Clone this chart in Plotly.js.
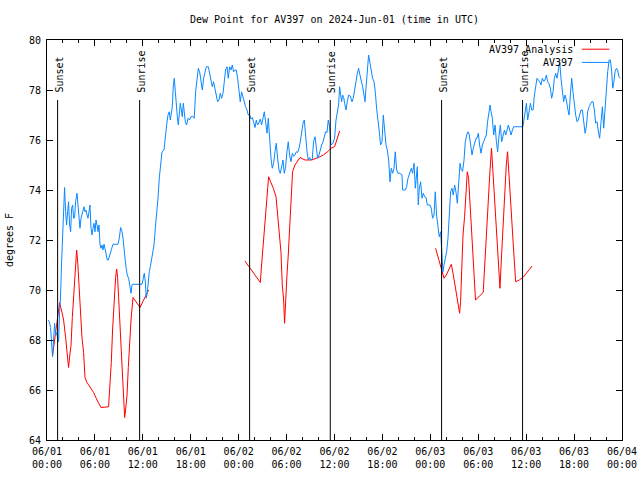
<!DOCTYPE html>
<html>
<head>
<meta charset="utf-8">
<script src="https://cdn.plot.ly/plotly-3.0.1.min.js"></script>
<style>html,body{margin:0;padding:0;background:#fff;}#chart{width:640px;height:480px;}</style>
</head>
<body>
<div id="chart"></div>
<script>
// hours since 2024-06-01 00:00 UTC
const obsHours = [0.13,0.29,0.45,0.54,0.63,0.70,0.83,0.95,1.08,1.20,1.33,1.45,1.58,1.70,1.83,1.95,2.08,2.20,2.33,2.45,2.58,2.70,2.83,2.96,3.08,3.21,3.33,3.46,3.58,3.76,3.88,4.01,4.13,4.26,4.38,4.51,4.63,4.76,4.88,5.01,5.13,5.26,5.38,5.51,5.63,5.76,5.89,6.01,6.14,6.26,6.39,6.51,6.64,6.76,6.89,7.01,7.14,7.30,7.43,7.55,7.68,7.84,8.01,8.26,8.89,9.05,9.22,9.39,9.52,9.64,9.77,9.89,10.05,10.22,10.39,10.52,10.64,10.77,11.27,11.90,12.06,12.18,12.31,12.43,12.56,12.68,12.81,12.94,13.06,13.22,13.40,13.56,13.72,13.90,14.06,14.22,14.40,14.65,14.81,14.98,15.15,15.31,15.44,15.56,15.69,15.82,15.94,16.07,16.19,16.32,16.44,16.57,16.69,16.82,16.94,17.07,17.19,17.32,17.48,17.66,17.85,18.03,18.25,18.44,18.61,18.78,18.95,19.11,19.28,19.45,19.61,19.78,19.95,20.20,20.36,20.54,20.70,20.86,21.04,21.20,21.36,21.54,21.70,21.86,22.04,22.20,22.36,22.54,22.70,22.87,23.04,23.20,23.37,23.54,23.70,23.87,24.04,24.20,24.37,24.54,24.71,24.87,25.04,25.21,25.37,25.54,25.71,25.87,26.05,26.21,26.37,26.55,26.71,26.87,27.05,27.21,27.37,27.55,27.71,27.87,28.05,28.21,28.37,28.55,28.71,28.88,29.05,29.21,29.38,29.55,29.71,29.88,30.05,30.21,30.38,30.55,30.72,30.88,31.05,31.22,31.38,31.56,31.72,31.88,32.06,32.22,32.38,32.56,32.72,32.88,33.06,33.22,33.38,33.56,33.72,33.88,34.06,34.22,34.39,34.56,34.72,34.89,35.06,35.22,35.39,35.56,35.81,36.01,36.19,36.35,36.51,36.64,36.76,36.89,37.02,37.15,37.27,37.44,37.60,37.77,37.98,38.19,38.35,38.52,38.69,38.86,39.02,39.19,39.36,39.52,39.69,39.82,39.94,40.10,40.27,40.45,40.61,40.77,40.95,41.11,41.27,41.45,41.61,41.77,41.95,42.11,42.27,42.45,42.61,42.78,42.95,43.11,43.28,43.45,43.61,43.78,43.95,44.20,44.45,44.53,44.87,45.03,45.20,45.37,45.62,45.78,45.96,46.12,46.28,46.37,46.49,46.62,46.78,46.96,47.12,47.28,47.46,47.62,47.96,48.12,48.28,48.46,48.62,48.78,48.96,49.12,49.29,49.37,49.46,49.58,49.71,49.87,50.04,50.21,50.37,50.54,50.71,50.87,51.04,51.22,51.38,51.54,51.72,51.88,52.04,52.22,52.38,52.55,52.72,52.88,53.05,53.22,53.38,53.55,53.72,53.84,54.01,54.17,54.35,54.51,54.67,54.85,55.01,55.17,55.35,55.48,55.60,55.77,55.93,56.11,56.27,56.43,56.61,56.77,56.93,57.11,57.28,57.44,57.61,57.77,57.94,58.11,58.28,58.44,58.94,59.57,59.69,59.87,60.03,60.19,60.37,60.53,60.70,60.87,61.03,61.20,61.36,61.53,61.69,61.86,62.03,62.19,62.36,62.53,62.69,62.86,63.03,63.19,63.37,63.53,63.69,63.87,64.04,64.20,64.36,64.53,64.69,64.87,65.03,65.19,65.37,65.53,65.70,65.87,66.03,66.20,66.37,66.53,66.70,66.87,67.04,67.20,67.38,67.54,67.70,67.88,68.04,68.20,68.38,68.54,68.70,68.88,69.04,69.20,69.38,69.55,69.71,69.88,70.05,70.21,70.39,70.55,70.71,70.84,70.97,71.13,71.30,71.45,71.62,71.79];
const obsDew = [68.8,68.73,68.5,67.8,67.6,67.33,68.07,68.67,68.2,68.3,68.07,67.93,69.13,69.8,71.13,72.07,73.4,74.1,73.13,72.6,73.13,73.53,72.6,72.33,73.27,73.4,72.87,72.9,73.53,73.87,73.4,72.73,72.47,72.87,73.07,73.27,73.33,73.13,73.2,73.0,72.87,73.13,73.4,72.47,72.2,72.47,72.67,72.33,72.8,72.6,72.33,72.6,71.8,71.67,71.8,71.6,71.83,71.6,71.4,71.2,71.2,71.4,71.6,71.83,71.83,72.07,72.5,72.33,72.07,71.53,71.27,70.93,70.6,70.47,70.2,69.87,70.2,70.23,70.23,70.23,70.47,70.67,70.33,69.67,69.9,70.47,70.73,70.93,71.13,71.4,71.8,72.47,73.0,73.67,74.47,74.87,75.53,75.6,76.2,76.6,77.0,77.13,76.8,77.13,77.33,78.2,78.47,77.93,77.2,76.93,76.6,77.13,77.47,77.2,76.93,77.47,77.2,76.73,76.6,76.87,76.8,76.93,76.95,76.87,77.93,78.47,78.87,78.73,78.27,78.0,78.47,78.67,78.93,78.93,78.67,78.47,78.13,78.33,78.07,77.8,77.53,77.6,77.87,77.67,77.87,78.33,78.8,78.93,78.47,78.93,78.8,79.0,78.73,78.8,78.8,78.47,77.93,77.53,77.93,77.7,77.53,77.33,77.2,77.0,77.0,76.84,76.9,76.67,76.5,76.8,76.6,76.7,76.84,76.6,76.93,77.13,76.73,76.27,76.87,75.93,75.27,74.87,75.07,75.53,75.87,75.27,74.8,74.67,75.0,75.2,74.67,74.93,75.53,75.93,75.4,75.13,75.47,75.35,75.4,75.53,75.5,75.67,75.93,76.4,76.67,76.8,76.07,75.53,75.2,75.3,75.2,75.25,75.93,76.13,75.73,75.27,75.4,75.67,75.8,75.93,76.13,76.33,76.3,76.8,76.53,75.8,75.87,76.07,76.8,77.13,77.4,78.13,77.8,77.53,77.8,77.7,77.47,77.2,77.53,77.8,77.75,77.53,77.67,77.93,78.33,78.67,78.87,78.6,78.4,78.13,77.8,77.53,78.07,78.73,79.4,79.07,78.73,78.47,78.33,77.93,77.27,76.87,76.33,75.8,75.93,77.0,76.33,75.8,75.6,75.2,74.33,74.87,74.67,74.87,75.53,74.8,74.67,74.67,74.6,74.0,74.0,74.13,74.47,74.67,74.87,74.67,75.07,74.07,74.53,74.93,73.4,74.07,74.33,73.67,73.87,73.73,73.7,73.4,73.4,73.27,72.87,73.0,73.93,73.0,72.53,72.13,72.33,72.0,71.27,70.73,71.0,71.27,71.53,72.07,72.87,73.93,74.07,73.8,74.2,73.9,73.47,74.47,75.07,74.8,74.75,75.2,75.93,76.2,76.33,76.2,75.8,75.4,75.67,75.93,76.07,76.07,76.27,75.8,75.47,75.8,75.93,76.0,76.2,76.73,77.27,77.4,77.13,76.87,76.2,76.6,75.93,75.53,76.2,76.6,75.93,76.2,76.4,76.2,76.47,76.6,76.4,76.2,76.4,76.53,76.53,76.53,76.73,77.27,77.47,76.8,77.13,77.47,77.2,77.2,77.8,78.13,78.47,78.4,78.33,78.2,78.47,78.35,78.4,78.6,78.33,78.25,78.07,77.67,77.93,78.47,78.67,78.47,78.87,79.13,78.47,77.93,77.53,77.8,77.6,77.27,77.0,77.8,78.47,77.9,77.4,77.0,76.73,76.8,77.0,77.2,77.2,76.73,76.27,76.53,77.13,77.33,77.47,77.53,77.53,77.2,76.67,76.73,76.33,76.07,76.73,77.33,76.47,77.33,78.07,78.73,79.2,79.2,78.73,78.07,78.3,78.73,78.87,78.8,78.53,78.47];

// analysis series (null = gap between runs)
const anaHours = [0.70,1.04,1.41,1.58,1.88,2.08,2.33,2.58,2.70,2.86,3.01,3.17,3.33,3.51,3.71,3.83,4.01,4.17,4.38,4.58,4.76,5.01,5.42,5.84,6.26,6.76,7.71,7.93,8.05,8.21,8.43,8.59,8.72,8.84,8.97,9.09,9.27,9.43,9.59,9.72,9.84,10.02,10.18,10.34,10.52,10.77,11.27,11.65,12.10,12.72,
  18.0,
  24.79,25.42,26.05,26.71,26.87,27.08,27.30,27.50,27.75,28.00,28.34,28.68,28.88,29.09,29.30,29.46,29.63,29.75,29.88,30.05,30.21,30.38,30.55,30.75,31.05,31.68,32.31,33.13,33.97,34.60,35.14,35.56,36.01,36.31,36.64,
  42.0,
  48.66,48.96,49.25,49.50,49.71,50.00,50.29,50.63,50.88,51.09,51.29,51.46,51.67,51.79,51.92,52.09,52.29,52.47,52.63,52.79,52.97,53.13,53.34,53.54,53.66,54.62,54.84,55.04,55.25,55.46,55.66,55.84,56.00,56.22,56.42,56.59,56.72,56.88,57.09,57.29,57.51,57.67,57.85,58.10,58.39,58.68,59.14,59.68,60.18,60.73];
const anaDew = [67.4,68.3,69.1,69.5,69.1,68.8,68.1,67.1,66.9,67.4,67.8,68.9,69.6,70.67,71.6,71.2,70.0,69.3,68.1,67.5,66.5,66.3,66.1,65.9,65.6,65.3,65.33,66.4,67.1,68.4,69.7,70.5,70.84,70.5,69.7,68.9,67.5,66.7,65.7,64.9,65.2,65.8,66.9,68.1,68.8,69.7,69.5,69.3,69.6,70.0,
  null,
  71.16,70.87,70.6,70.3,71.0,71.93,72.73,73.73,74.53,74.33,74.07,73.73,73.0,72.1,71.5,70.2,69.6,68.67,69.7,70.6,71.4,72.6,73.67,74.73,75.0,75.3,75.2,75.2,75.3,75.4,75.53,75.67,75.73,76.0,76.36,
  null,
  71.67,71.33,71.0,70.67,70.47,70.6,70.8,71.03,70.6,70.2,69.8,69.4,69.07,69.53,70.73,72.2,72.93,73.87,74.73,74.47,73.53,72.6,71.53,70.6,69.6,69.9,71.27,72.47,73.8,74.73,75.67,74.73,73.8,72.73,71.8,71.13,70.07,71.13,72.6,73.87,75.0,75.53,74.47,73.13,71.8,70.33,70.4,70.53,70.73,70.96];

const sunHours = [1.33, 11.60, 25.37, 35.47, 49.41, 59.55];
const sunLabels = ["Sunset","Sunrise","Sunset","Sunrise","Sunset","Sunrise"];

const tickHours = [0,6,12,18,24,30,36,42,48,54,60,66,72];
const tickLabels = ["06/01<br>00:00","06/01<br>06:00","06/01<br>12:00","06/01<br>18:00","06/02<br>00:00","06/02<br>06:00","06/02<br>12:00","06/02<br>18:00","06/03<br>00:00","06/03<br>06:00","06/03<br>12:00","06/03<br>18:00","06/04<br>00:00"];

const seriesNames = ["AV397 Analysis","AV397"];
const RED = "#ff0000", BLUE = "#0a88ff";
const FONT = {family: "DejaVu Sans Mono, monospace", size: 10, color: "#000"};

const traces = [
  {x: anaHours, y: anaDew, type: "scatter", mode: "lines", name: seriesNames[0], line: {color: RED, width: 1}, connectgaps: false},
  {x: obsHours, y: obsDew, type: "scatter", mode: "lines", name: seriesNames[1], line: {color: BLUE, width: 1}}
];

const shapes = sunHours.map(h => ({type: "line", xref: "x", yref: "y", x0: h, x1: h, y0: 64, y1: 77.6, line: {color: "#000", width: 1}}));
const annotations = sunHours.map((h, i) => ({x: h, y: 77.6, xref: "x", yref: "y", text: sunLabels[i], textangle: -90, showarrow: false, xanchor: "center", yanchor: "bottom", yshift: 5, xshift: 1, font: FONT}));

// legend in gnuplot style (text then sample)
const legendY = [0.977, 0.944];
seriesNames.forEach((n, i) => {
  annotations.push({xref: "paper", yref: "paper", x: 0.919, y: legendY[i], text: n, showarrow: false, xanchor: "right", yanchor: "middle", font: FONT});
  shapes.push({type: "line", xref: "paper", yref: "paper", x0: 0.930, x1: 0.978, y0: legendY[i], y1: legendY[i], line: {color: i === 0 ? RED : BLUE, width: 1}});
});

const layout = {
  width: 640, height: 480,
  margin: {l: 47, r: 18, t: 40, b: 40, pad: 0},
  paper_bgcolor: "#fff", plot_bgcolor: "#fff",
  font: FONT,
  showlegend: false,
  title: {text: "Dew Point for AV397 on 2024-Jun-01 (time in UTC)", font: FONT, x: 0.5, xref: "paper", y: 0.96, yref: "container", yanchor: "middle"},
  xaxis: {range: [0, 72], tickmode: "array", tickvals: tickHours, ticktext: tickLabels, ticks: "inside", ticklen: 6, tickcolor: "#000", showline: true, linecolor: "#000", linewidth: 1, mirror: "allticks", showgrid: false, zeroline: false, tickfont: FONT, ticklabelstandoff: 2,
    minor: {dtick: 2, tick0: 0, ticks: "inside", ticklen: 3, tickcolor: "#000", showgrid: false}},
  yaxis: {range: [64, 80], dtick: 2, tick0: 64, ticks: "inside", ticklen: 6, tickcolor: "#000", showline: true, linecolor: "#000", linewidth: 1, mirror: "allticks", showgrid: false, zeroline: false, tickfont: FONT, ticklabelstandoff: 3,
    title: {text: "degrees F", font: FONT, standoff: 13}},
  shapes: shapes,
  annotations: annotations
};

Plotly.newPlot("chart", traces, layout, {displayModeBar: false, staticPlot: true});
</script>
</body>
</html>
